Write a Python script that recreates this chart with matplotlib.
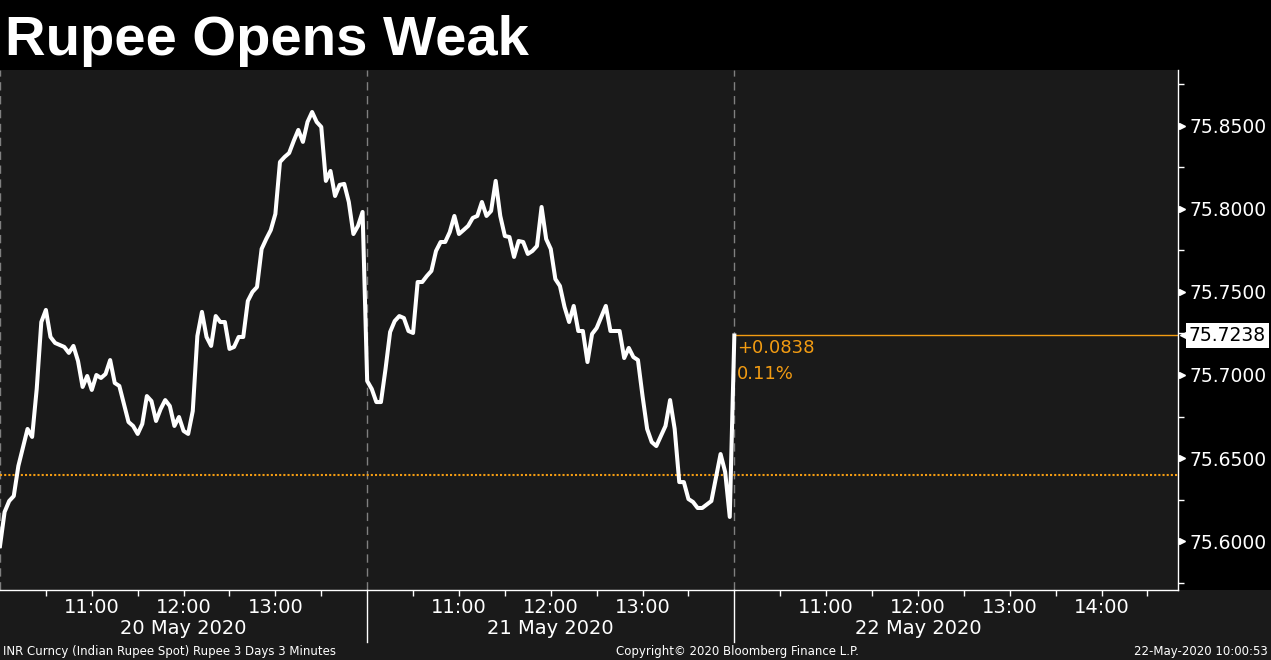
import matplotlib
matplotlib.use("Agg")
import matplotlib.pyplot as plt
import matplotlib.transforms as mtransforms
from matplotlib.patches import Rectangle
import numpy as np

plt.rcParams['font.family'] = 'DejaVu Sans'

# INR spot, 3 minute bars. Minutes are counted from 10:00 of each session.
day1_minutes = [0, 3, 6, 9, 12, 18, 21, 24, 27, 30, 33, 36, 42, 45, 48, 51, 54, 57,
                60, 63, 66, 69, 72, 75, 78, 81, 84, 87, 90, 93, 96, 99, 102, 105, 108,
                111, 114, 117, 120, 123, 126, 129, 132, 135, 138, 141, 144, 147, 150,
                153, 156, 159, 162, 165, 168, 171, 174, 177, 180, 183, 186, 189, 192,
                195, 198, 201, 204, 207, 210, 213, 216, 219, 222, 225, 228, 231, 234, 237]
day1_values = [75.5970, 75.6175, 75.6241, 75.6271, 75.6452, 75.6675, 75.6627, 75.6916,
               75.7319, 75.7392, 75.7229, 75.7193, 75.7169, 75.7133, 75.7175, 75.7084,
               75.6928, 75.6994, 75.6910, 75.7000, 75.6982, 75.7006, 75.7090, 75.6952,
               75.6934, 75.6825, 75.6717, 75.6693, 75.6645, 75.6705, 75.6873, 75.6843,
               75.6723, 75.6795, 75.6849, 75.6813, 75.6693, 75.6747, 75.6663, 75.6645,
               75.6783, 75.7235, 75.7380, 75.7229, 75.7175, 75.7355, 75.7319, 75.7319,
               75.7157, 75.7169, 75.7229, 75.7229, 75.7446, 75.7500, 75.7530, 75.7759,
               75.7819, 75.7873, 75.7970, 75.8283, 75.8313, 75.8337, 75.8410, 75.8476,
               75.8404, 75.8524, 75.8584, 75.8524, 75.8494, 75.8169, 75.8229, 75.8078,
               75.8145, 75.8151, 75.8042, 75.7849, 75.7898, 75.7982]

day2_minutes = [0, 3, 6, 9, 12, 15, 18, 21, 24, 27, 30, 33, 36, 39, 42, 45, 48, 51, 54,
                57, 60, 63, 66, 69, 72, 75, 78, 81, 84, 87, 90, 93, 96, 99, 102, 105,
                108, 111, 114, 117, 120, 123, 126, 129, 132, 135, 138, 141, 144, 147,
                150, 156, 159, 165, 168, 171, 174, 177, 180, 183, 186, 189, 192, 195,
                198, 201, 204, 207, 210, 213, 216, 219, 225, 231, 234, 237]
day2_values = [75.6964, 75.6916, 75.6837, 75.6837, 75.7036, 75.7259, 75.7325, 75.7355,
               75.7343, 75.7265, 75.7253, 75.7560, 75.7560, 75.7596, 75.7627, 75.7747,
               75.7801, 75.7801, 75.7861, 75.7958, 75.7849, 75.7873, 75.7898, 75.7946,
               75.7958, 75.8042, 75.7958, 75.7988, 75.8169, 75.7958, 75.7837, 75.7831,
               75.7711, 75.7807, 75.7801, 75.7729, 75.7747, 75.7777, 75.8012, 75.7819,
               75.7759, 75.7578, 75.7536, 75.7410, 75.7319, 75.7416, 75.7265, 75.7265,
               75.7078, 75.7247, 75.7283, 75.7416, 75.7265, 75.7265, 75.7102, 75.7163,
               75.7108, 75.7090, 75.6873, 75.6675, 75.6596, 75.6572, 75.6633, 75.6693,
               75.6849, 75.6675, 75.6355, 75.6355, 75.6253, 75.6235, 75.6199, 75.6199,
               75.6241, 75.6524, 75.6416, 75.6145]

day3_minutes = [0]
day3_values = [75.7238]

prev_close = 75.6400
change_text = "+0.0838"
pct_text = "0.11%"

session_dates = ["20 May 2020", "21 May 2020", "22 May 2020"]
hour_labels = [["11:00", "12:00", "13:00"],
               ["11:00", "12:00", "13:00"],
               ["11:00", "12:00", "13:00", "14:00"]]
y_ticks = [75.60, 75.65, 75.70, 75.75, 75.80, 75.85]

SESSION = 240          # 10:00 - 14:00 shown for each day
X_END = 770            # axis runs a little past 14:00 on the last day
ORANGE = '#f39c12'
PANEL = '#1a1a1a'

W, H = 1271, 660
fig = plt.figure(figsize=(W / 100, H / 100), dpi=100, facecolor='black')
# grey band for the time axis and footer, kept behind the axes
fig.patches.append(Rectangle((0, 0), 1, 70 / H, transform=fig.transFigure,
                             facecolor=PANEL, edgecolor='none', zorder=-1))
ax = fig.add_axes([0, 70 / H, 1178 / W, 520 / H])
ax.set_facecolor(PANEL)

sessions = [(day1_minutes, day1_values), (day2_minutes, day2_values),
            (day3_minutes, day3_values)]
x = np.concatenate([np.array(m) + i * SESSION for i, (m, _) in enumerate(sessions)])
y = np.concatenate([v for _, v in sessions])
last = y[-1]

ax.set_xlim(0, X_END)
ax.set_ylim(75.5705, 75.8837)

# session separators and previous close
for i in range(3):
    ax.axvline(i * SESSION, color='#808080', lw=1, dashes=(6, 4), zorder=1)
ax.axhline(prev_close, color=ORANGE, lw=1.5, ls=(0, (1, 1)), zorder=1)
ax.hlines(last, x[-1], X_END, color=ORANGE, lw=1, zorder=1)

ax.plot(x, y, color='white', lw=2.9, zorder=3)

ax.annotate(change_text, xy=(x[-1], last), xytext=(3, -13), textcoords='offset pixels',
            ha='left', va='center', color=ORANGE, fontsize=13)
ax.annotate(pct_text, xy=(x[-1], last), xytext=(3, -39), textcoords='offset pixels',
            ha='left', va='center', color=ORANGE, fontsize=13)

# spines
for s in ['top', 'left']:
    ax.spines[s].set_visible(False)
for s in ['right', 'bottom']:
    ax.spines[s].set_color('white')
    ax.spines[s].set_linewidth(1)

# y axis on the right
ax.yaxis.tick_right()
ax.set_yticks(y_ticks)
ax.set_yticklabels([f"{t:.4f}" for t in y_ticks])
ax.set_yticks([t + 0.025 for t in y_ticks] + [y_ticks[0] - 0.025], minor=True)
ax.tick_params(axis='y', which='major', length=0, pad=8, labelsize=13.5,
               labelcolor='white', left=False, right=True)
ax.tick_params(axis='y', which='minor', length=4, width=1, color='white',
               left=False, right=True)
ytrans = mtransforms.offset_copy(
    mtransforms.blended_transform_factory(ax.transAxes, ax.transData),
    fig=fig, x=4, y=0, units='dots')
ax.plot([1.0] * len(y_ticks), y_ticks, ls='none', marker='>', ms=4,
        color='white', transform=ytrans, clip_on=False)

# last value tag
ax.annotate(f"{last:.4f}", xy=(1, last), xycoords=('axes fraction', 'data'),
            xytext=(11, 0), textcoords='offset pixels', ha='left', va='center',
            fontsize=13.5, color='black', annotation_clip=False,
            bbox=dict(boxstyle='square,pad=0.15', fc='white', ec='none'))
ax.plot([1.0], [last], ls='none', marker='<', ms=11, color='white',
        transform=mtransforms.offset_copy(
            mtransforms.blended_transform_factory(ax.transAxes, ax.transData),
            fig=fig, x=10, y=0, units='dots'), clip_on=False)

# x axis: hours per session
major_pos, major_lab = [], []
for i, labs in enumerate(hour_labels):
    for lab in labs:
        major_pos.append(i * SESSION + (int(lab[:2]) - 10) * 60)
        major_lab.append(lab)
minor_pos = [m for m in range(30, X_END, 30) if m % SESSION and m not in major_pos]
ax.set_xticks(major_pos)
ax.set_xticklabels(major_lab)
ax.set_xticks(minor_pos, minor=True)
ax.tick_params(axis='x', which='both', length=4, width=1, color='white',
               direction='out')
ax.tick_params(axis='x', which='major', pad=2, labelsize=14, labelcolor='white')

date_trans = mtransforms.blended_transform_factory(ax.transData, fig.transFigure)
for i, d in enumerate(session_dates):
    ax.text(i * SESSION + 120, 1 - 629 / H, d, transform=date_trans, ha='center',
            va='center', fontsize=14, color='white')
for i in (1, 2):
    ax.plot([i * SESSION] * 2, [70 / H, 18 / H], color='white', lw=1,
            transform=date_trans, clip_on=False)

# title and footer
fig.text(5 / W, 1 - 55 / H, "Rupee Opens Weak", fontsize=40.5, fontweight='bold',
         family='Liberation Sans', color='white', va='baseline')
fig.text(3 / W, 1 - 651 / H, "INR Curncy (Indian Rupee Spot) Rupee 3 Days 3 Minutes",
         fontsize=8.5, color='white', va='center', ha='left')
fig.text(737 / W, 1 - 651 / H, "Copyright\u00a9 2020 Bloomberg Finance L.P.",
         fontsize=8.5, color='white', va='center', ha='center')
fig.text(1268 / W, 1 - 651 / H, "22-May-2020 10:00:53",
         fontsize=8.5, color='white', va='center', ha='right')

fig.savefig("out.png", dpi=100, facecolor=fig.get_facecolor())
